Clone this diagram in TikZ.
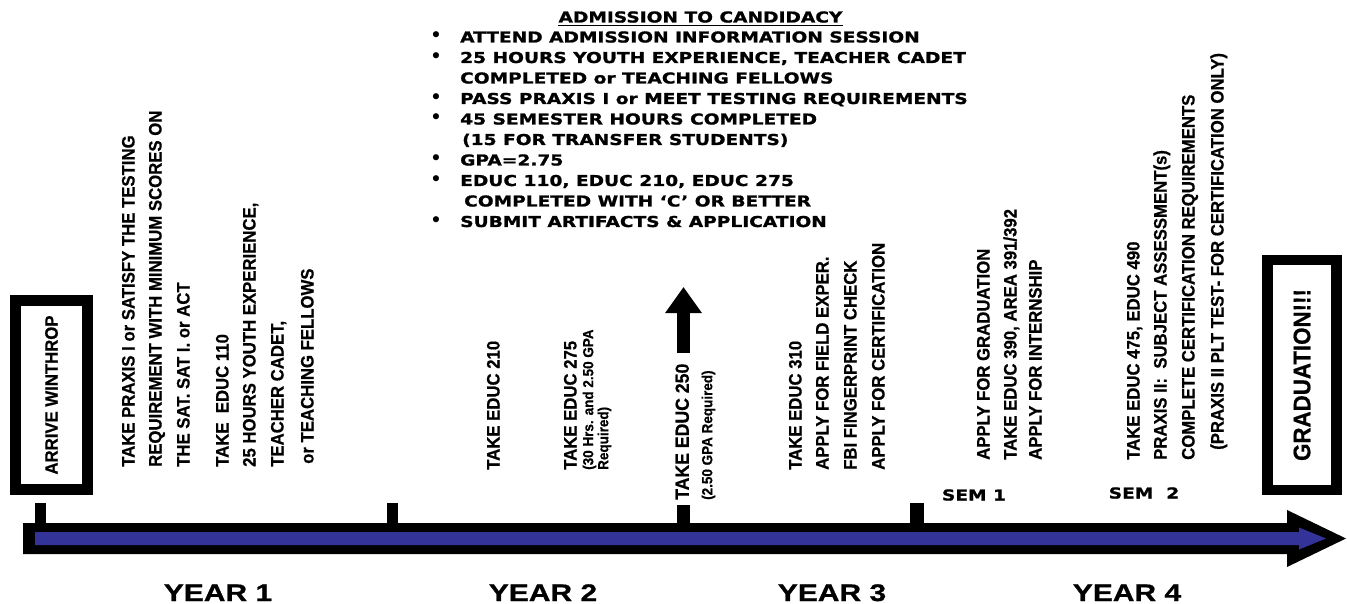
\documentclass[tikz,border=0pt]{standalone}
\usepackage{fontspec}
\usetikzlibrary{arrows.meta}
\newfontfamily\rotf{Liberation Sans}[FakeStretch=0.93,FakeBold=0.6]
\newfontfamily\widef{DejaVu Sans}[FakeStretch=1.24,FakeBold=1.2]
\newfontfamily\yearf{Liberation Sans}[FakeStretch=1.25,FakeBold=0.8]
\newfontfamily\bulf{DejaVu Sans}
\definecolor{tlblue}{RGB}{51,51,153}
\tikzset{
 rt/.style={rotate=90, anchor=base west, inner sep=0pt, font=\rotf\bfseries\fontsize{18}{18}\selectfont},
 rts/.style={rt, font=\rotf\bfseries\fontsize{14.5}{14.5}\selectfont},
 rtb/.style={rt, font=\rotf\bfseries\fontsize{19}{19}\selectfont},
 tl/.style={anchor=base west, inner sep=0pt, font=\widef\bfseries\fontsize{15}{15}\selectfont},
 bul/.style={anchor=base, inner sep=0pt, font=\bulf\fontsize{21}{21}\selectfont},
 yr/.style={anchor=base, inner sep=0pt, font=\yearf\bfseries\fontsize{24}{24}\selectfont},
 sem/.style={anchor=base, inner sep=0pt, font=\widef\bfseries\fontsize{15}{15}\selectfont},
 endbox/.style={draw, line width=11pt, rotate=90, inner sep=0pt, fill=white},
 tickmark/.style={fill=black},
}
\begin{document}
\begin{tikzpicture}[x=1pt,y=-1pt]
\useasboundingbox (0,0) rectangle (1347,604);
\fill[white] (0,0) rectangle (1347,604);

% ---- timeline arrow ----
\fill[black] (23,523) -- (1287,523) -- (1287,510) -- (1346,538.5) -- (1287,567) -- (1287,554) -- (23,554) -- cycle;
\fill[tlblue] (35,532) -- (1299,532) -- (1299,527.5) -- (1326,538.5) -- (1299,549.5) -- (1299,545) -- (35,545) -- cycle;

% ---- ticks ----
\fill[tickmark] (35,503) rectangle (46,523);
\fill[tickmark] (387,503) rectangle (398,523);
\fill[tickmark] (677,505) rectangle (690,523);
\fill[tickmark] (910,503) rectangle (924,523);

% ---- end boxes ----
\node[endbox, minimum width=189pt, minimum height=72pt, font=\rotf\bfseries\fontsize{18}{18}\selectfont] (arrive) at (51.5,395) {ARRIVE WINTHROP};
\node[endbox, line width=10.5pt, minimum width=230pt, minimum height=69pt, font=\rotf\bfseries\fontsize{24}{24}\selectfont] (grad) at (1302,375) {GRADUATION!!!};

% ---- year 1 column ----
\node[rt] (c1a) at (134.5,467) {TAKE PRAXIS I or SATISFY THE TESTING};
\node[rt] (c1b) at (161.5,467) {REQUIREMENT WITH MINIMUM SCORES ON};
\node[rt] (c1c) at (189.5,467) {THE SAT. SAT I. or ACT};
\node[rt] (c1d) at (228.5,467) {TAKE~ EDUC 110};
\node[rt] (c1e) at (255.5,467) {25 HOURS YOUTH EXPERIENCE,};
\node[rt] (c1f) at (283.5,467) {TEACHER CADET,};
\node[rt] (c1g) at (313.5,464) {or TEACHING FELLOWS};

% ---- year 2 column ----
\node[rt] (c2a) at (499.5,470) {TAKE EDUC 210};
\node[rt] (c2b) at (576.5,470) {TAKE EDUC 275};
\node[rts] (c2c) at (593.2,470) {(30 Hrs. and 2.50 GPA};
\node[rts] (c2d) at (608.2,470) {Required)};
\node[rtb] (c2e) at (688.8,500) {TAKE EDUC 250};
\node[rts] (c2f) at (712.2,500) {(2.50 GPA Required)};

% ---- up arrow ----
\coordinate (ua) at (683.5,353);
\coordinate (ub) at (683.5,287);
\draw[line width=13pt, -{Triangle[width=35pt, length=26pt]}] (ua) -- (ub);

% ---- year 3 column ----
\node[rt] (c3a) at (801.5,470) {TAKE EDUC 310};
\node[rt] (c3b) at (828.5,470) {APPLY FOR FIELD EXPER.};
\node[rt] (c3c) at (856.5,470) {FBI FINGERPRINT CHECK};
\node[rt] (c3d) at (884.5,470) {APPLY FOR CERTIFICATION};

% ---- year 4 sem 1 ----
\node[rt] (c4a) at (989.5,460) {APPLY FOR GRADUATION};
\node[rt] (c4b) at (1016.5,460) {TAKE EDUC 390, AREA 391/392};
\node[rt] (c4c) at (1041.5,460) {APPLY FOR INTERNSHIP};
\node[sem] (sem1) at (974,500.5) {SEM 1};

% ---- year 4 sem 2 ----
\node[rt] (c5a) at (1139.5,460) {TAKE EDUC 475, EDUC 490};
\node[rt] (c5b) at (1166.5,460) {PRAXIS II:~ SUBJECT ASSESSMENT(s)};
\node[rt] (c5c) at (1194.5,460) {COMPLETE CERTIFICATION REQUIREMENTS};
\node[rt] (c5d) at (1223.5,450) {(PRAXIS II PLT TEST- FOR CERTIFICATION ONLY)};
\node[sem] (sem2) at (1144,498.5) {SEM~ 2};

% ---- admission block ----
\node[tl, anchor=base] (title) at (700.5,22.5) {ADMISSION TO CANDIDACY};
\draw[line width=1.6pt] ([yshift=-2.5pt]title.south west) -- ([yshift=-2.5pt]title.south east);
\node[bul] (b1) at (436,43) {•};
\node[tl] (t1) at (460,42.5) {ATTEND ADMISSION INFORMATION SESSION};
\node[bul] (b2) at (436,63.5) {•};
\node[tl] (t2) at (460,63) {25 HOURS YOUTH EXPERIENCE, TEACHER CADET};
\node[tl] (t3) at (460,83.5) {COMPLETED or TEACHING FELLOWS};
\node[bul] (b4) at (436,104.5) {•};
\node[tl] (t4) at (460,104) {PASS PRAXIS I or MEET TESTING REQUIREMENTS};
\node[bul] (b5) at (436,125) {•};
\node[tl] (t5) at (460,124.5) {45 SEMESTER HOURS COMPLETED};
\node[tl] (t6) at (462,145) {(15 FOR TRANSFER STUDENTS)};
\node[bul] (b7) at (436,166) {•};
\node[tl] (t7) at (460,165.5) {GPA=2.75};
\node[bul] (b8) at (436,186.5) {•};
\node[tl] (t8) at (460,186) {EDUC 110, EDUC 210, EDUC 275};
\node[tl] (t9) at (464,206.5) {COMPLETED WITH ‘C’ OR BETTER};
\node[bul] (b10) at (436,227.5) {•};
\node[tl] (t10) at (460,227) {SUBMIT ARTIFACTS \& APPLICATION};

% ---- years ----
\node[yr] (y1) at (218,601) {YEAR 1};
\node[yr] (y2) at (543,601) {YEAR 2};
\node[yr] (y3) at (832,601) {YEAR 3};
\node[yr] (y4) at (1127,601) {YEAR 4};
\end{tikzpicture}
\end{document}
